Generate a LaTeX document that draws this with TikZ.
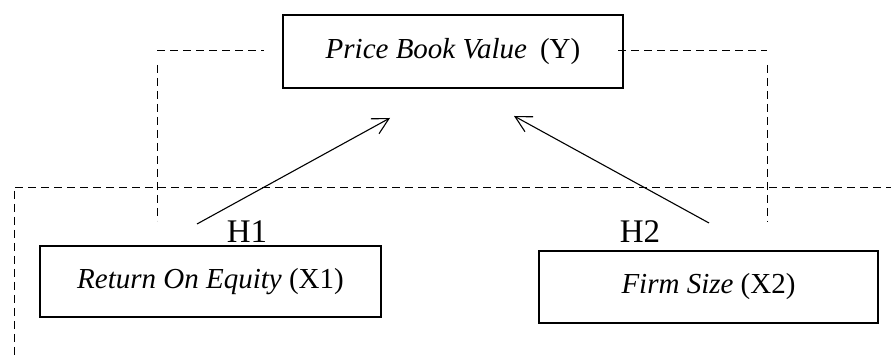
\documentclass[tikz,border=0pt]{standalone}
\usepackage{fontspec}
\setmainfont{Liberation Serif}
\usetikzlibrary{arrows.meta}
\tikzset{
  varbox/.style={draw, line width=1.3pt, inner sep=0pt, align=center,
    font=\fontsize{14.5pt}{16pt}\selectfont},
  hyplabel/.style={inner sep=0pt, anchor=base, font=\fontsize{16.5pt}{18pt}\selectfont},
  dashline/.style={line width=0.5pt, dash pattern=on 4pt off 2.5pt},
  hyparrow/.style={line width=0.55pt, -{Straight Barb[length=8pt,width=8.5pt,line width=0.55pt]}}
}
\begin{document}
\begin{tikzpicture}[x=0.5pt,y=-0.5pt]
\useasboundingbox (0,0) rectangle (891,356);
% boxes
\node[varbox, minimum width=170pt, minimum height=36.5pt] (Y) at (453,51.5) {\textit{Price Book Value}\hspace{0.45em}(Y)};
\node[varbox, minimum width=170.5pt, minimum height=35.5pt] (X1) at (210.5,281.5) {\textit{Return On Equity} (X1)};
\node[varbox, minimum width=169.5pt, minimum height=36pt] (X2) at (708.5,287) {\textit{Firm Size} (X2)};
% hypothesis labels
\node[hyplabel] (H1) at (247,243) {H1};
\node[hyplabel] (H2) at (640,243) {H2};
% dashed frames
\coordinate (l1) at (157,51);
\coordinate (l2) at (264,51);
\coordinate (l3) at (157,65);
\coordinate (l4) at (157,221);
\coordinate (r1) at (618,51);
\coordinate (r2) at (767,51);
\coordinate (r3) at (767,65);
\coordinate (r4) at (767,222);
\coordinate (b1) at (15,188);
\coordinate (b2) at (891,188);
\coordinate (b3) at (14,191);
\coordinate (b4) at (14,356);
\draw[dashline] (l1) -- (l2);
\draw[dashline] (l3) -- (l4);
\draw[dashline] (r1) -- (r2);
\draw[dashline] (r3) -- (r4);
\draw[dashline] (b1) -- (b2);
\draw[dashline] (b3) -- (b4);
% arrows
\coordinate (t1) at (197,224);
\coordinate (h1) at (390,118);
\coordinate (t2) at (709,223);
\coordinate (h2) at (514,116);
\draw[hyparrow] (t1) -- (h1);
\draw[hyparrow] (t2) -- (h2);
\end{tikzpicture}
\end{document}
